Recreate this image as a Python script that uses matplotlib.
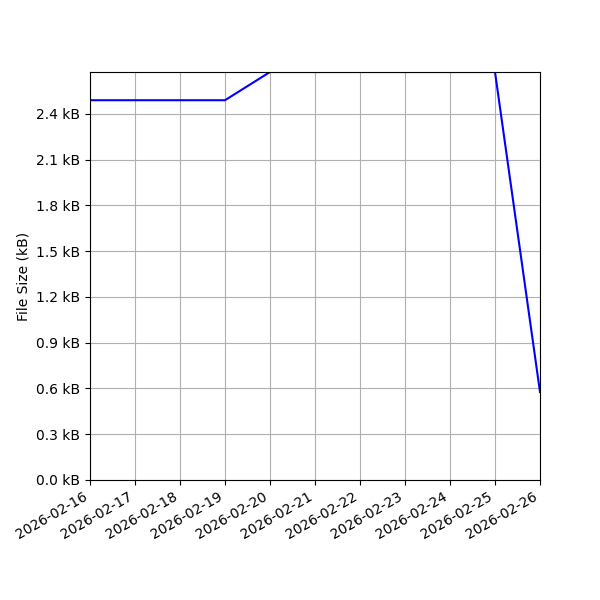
import pandas as pd
import matplotlib
matplotlib.use('Agg')
import matplotlib.pyplot as plt
import matplotlib.dates as mdates
from matplotlib.ticker import MultipleLocator, FuncFormatter

dates = pd.date_range('2026-02-16', '2026-02-26', freq='D')
sizes_kb = [2.49, 2.49, 2.49, 2.49, 2.675, 2.675, 2.675, 2.675, 2.675, 2.675, 0.577]

fig, ax = plt.subplots(figsize=(6, 6), dpi=100)
ax.plot(dates, sizes_kb, color='blue')
ax.set_xlim(dates[0], dates[-1])
ax.set_ylim(0, max(sizes_kb))
ax.yaxis.set_major_locator(MultipleLocator(0.3))
ax.yaxis.set_major_formatter(FuncFormatter(lambda v, p: f'{v:.1f} kB'))
ax.xaxis.set_major_locator(mdates.DayLocator())
ax.xaxis.set_major_formatter(mdates.DateFormatter('%Y-%m-%d'))
ax.set_ylabel('File Size (kB)')
ax.grid(True)
fig.autofmt_xdate()
fig.subplots_adjust(left=0.15)
fig.savefig('out.png')
